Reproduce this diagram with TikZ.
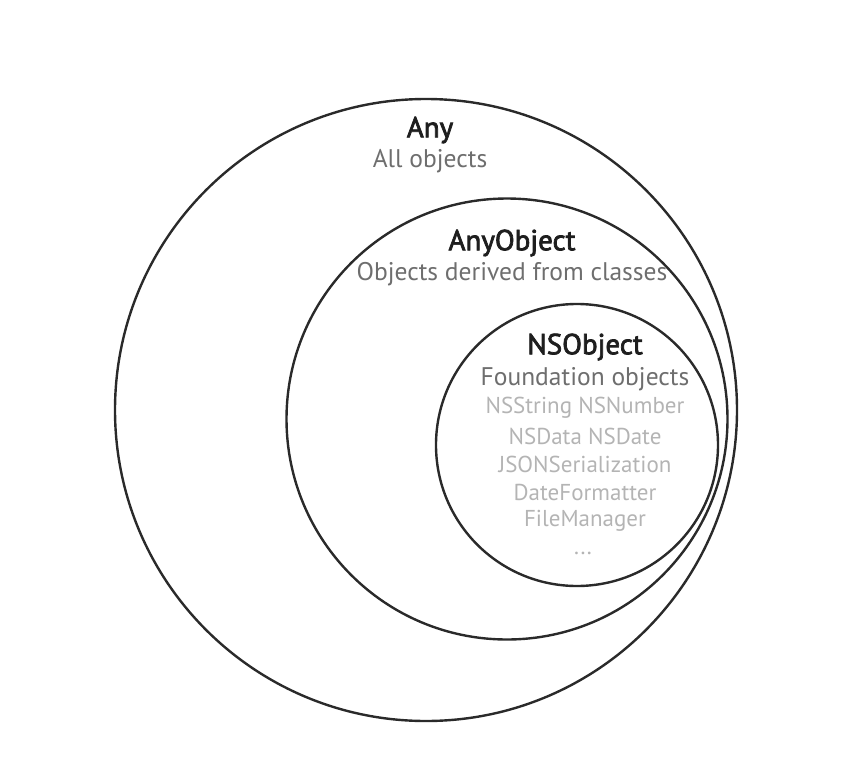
\documentclass[tikz,border=0pt]{standalone}
\usepackage{fontspec}
\setmainfont{PT Sans}
\newfontfamily\semib[FakeBold=2.5]{PT Sans}
\definecolor{ink}{HTML}{2A2A2A}
\definecolor{title}{HTML}{1E1E1E}
\definecolor{sub}{HTML}{6E6E6E}
\definecolor{light}{HTML}{B4B4B4}
\begin{document}
\begin{tikzpicture}[x=1pt,y=-1pt,
  ring/.style={draw=ink,line width=2.4pt},
  ttl/.style={font=\semib\fontsize{29}{32}\selectfont,text=title,inner sep=0pt},
  subt/.style={font=\fontsize{25.5}{28}\selectfont,text=sub,inner sep=0pt},
  item/.style={font=\fontsize{23}{26}\selectfont,text=light,inner sep=0pt}]
\useasboundingbox (0,0) rectangle (868,774);
\node[ring,circle,minimum size=622pt,inner sep=0pt] (any) at (426,410) {};
\node[ring,circle,minimum size=441pt,inner sep=0pt] (anyobj) at (507,419) {};
\node[ring,circle,minimum size=282pt,inner sep=0pt] (nsobj) at (577,445) {};
\node[ttl] (t1) at (430,130) {Any};
\node[subt] (s1) at (430,161) {All objects};
\node[ttl] (t2) at (512,243) {AnyObject};
\node[subt] (s2) at (512,274) {Objects derived from classes};
\node[ttl] (t3) at (585,347) {NSObject};
\node[subt] (s3) at (585,379) {Foundation objects};
\node[item] (i1) at (585,408) {NSString NSNumber};
\node[item] (i2) at (585,436) {NSData NSDate};
\node[item] (i3) at (585,464) {JSONSerialization};
\node[item] (i4) at (585,492) {DateFormatter};
\node[item] (i5) at (585,521) {FileManager};
\node[item] (i6) at (583,553) {...};
\end{tikzpicture}
\end{document}
